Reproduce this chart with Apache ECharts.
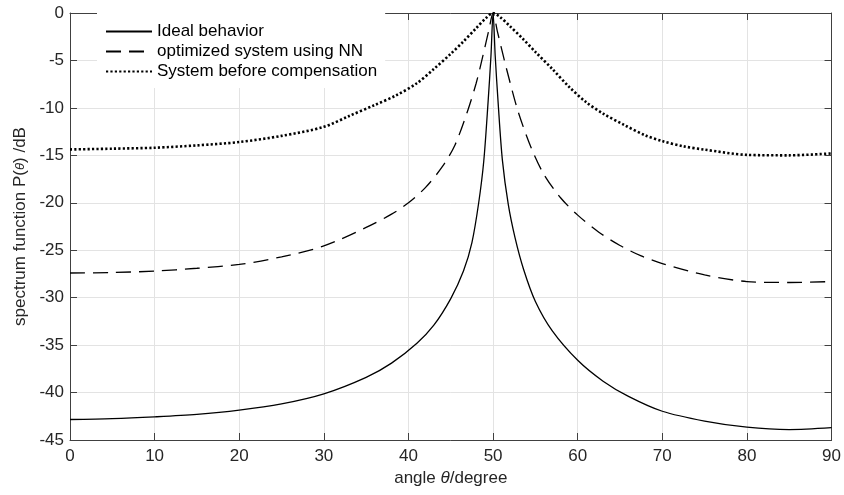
<!DOCTYPE html>
<html>
<head>
<meta charset="utf-8">
<script src="https://cdn.jsdelivr.net/npm/echarts@6/dist/echarts.min.js"></script>
<style>
html,body{margin:0;padding:0;background:#fff;}
#chart{width:844px;height:495px;}
</style>
</head>
<body>
<div id="chart"></div>
<script>
// ---- data ----
var seriesNames = ['Ideal behavior', 'optimized system using NN', 'System before compensation'];

var idealAngles = [0, 5, 10, 15, 20, 25, 30, 35, 38, 41, 43, 45, 46.5, 47.5, 48.3, 48.9, 49.4, 49.75, 50, 50.25, 50.6, 51.1, 51.8, 52.6, 53.6, 55, 57, 60, 63, 66, 70, 75, 80, 85, 90];
var idealValues = [-42.84, -42.75, -42.56, -42.3, -41.86, -41.2, -40.14, -38.4, -36.9, -34.8, -32.9, -30.1, -27.2, -24.2, -20.0, -15.6, -9.5, -4.5, 0, -4.5, -9.5, -15.5, -20.2, -23.7, -27.0, -30.4, -33.5, -36.6, -38.8, -40.4, -41.97, -43.0, -43.65, -43.9, -43.7];

var nnAngles = [0, 5, 10, 15, 20, 25, 30, 35, 38, 40, 42, 44, 45.5, 47, 48, 48.8, 49.5, 50, 50.5, 51.2, 52, 53, 54.5, 56, 58, 60, 62.5, 65, 67.5, 70, 75, 80, 85, 90];
var nnValues = [-27.4, -27.35, -27.2, -26.9, -26.5, -25.7, -24.55, -22.6, -21.2, -20.0, -18.4, -16.2, -13.9, -10.3, -7.4, -4.5, -1.8, 0, -1.9, -4.5, -7.3, -10.5, -14.2, -17.0, -19.5, -21.3, -23.1, -24.5, -25.6, -26.4, -27.6, -28.3, -28.4, -28.3];

var beforeAngles = [0, 5, 10, 15, 20, 25, 30, 33, 36, 38.5, 41, 43, 45, 46.5, 48, 49.2, 50, 50.8, 52, 53.5, 55, 57, 59, 61, 63, 65.5, 68, 70, 72.5, 75, 80, 85, 90];
var beforeValues = [-14.38, -14.3, -14.2, -13.95, -13.6, -12.95, -12.0, -10.85, -9.7, -8.7, -7.4, -5.9, -4.3, -3.0, -1.6, -0.5, 0, -0.4, -1.4, -2.7, -4.1, -5.9, -7.8, -9.4, -10.6, -11.8, -12.9, -13.5, -14.05, -14.4, -14.95, -15.0, -14.8];

var xTicks = [0, 10, 20, 30, 40, 50, 60, 70, 80, 90];
var yTicks = [0, -5, -10, -15, -20, -25, -30, -35, -40, -45];

function pairs(xs, ys) { return xs.map(function (x, i) { return [x, ys[i]]; }); }

var chart = echarts.init(document.getElementById('chart'), null, {renderer: 'canvas'});
var FONT = 'Liberation Sans, Arial, Helvetica, sans-serif';
var axisCol = '#404040';
var gridCol = '#e3e3e3';

var baseX = {
  type: 'value', min: 0, max: 90, interval: 10,
  axisLine: {show: true, onZero: false, lineStyle: {color: axisCol, width: 1}},
  axisTick: {show: true, inside: true, length: 7, lineStyle: {color: axisCol}},
  splitLine: {show: false}
};
var baseY = {
  type: 'value', min: -45, max: 0, interval: 5,
  axisLine: {show: true, onZero: false, lineStyle: {color: axisCol, width: 1}},
  axisTick: {show: true, inside: true, length: 7, lineStyle: {color: axisCol}},
  splitLine: {show: false}
};

var option = {
  backgroundColor: '#fff',
  animation: false,
  textStyle: {fontFamily: FONT},
  grid: {left: 70, right: 12, top: 13, bottom: 55, containLabel: false},
  legend: {
    orient: 'vertical', left: 97, top: 13,
    backgroundColor: '#fff',
    padding: [10, 8, 8, 8],
    itemWidth: 46, itemHeight: 12, itemGap: 3,
    itemStyle: {opacity: 0},
    textStyle: {fontSize: 17, color: '#000', fontFamily: FONT},
    data: seriesNames
  },
  xAxis: [
    Object.assign({}, baseX, {
      position: 'bottom',
      axisLabel: {show: true, fontSize: 17, color: '#262626', margin: 8, fontFamily: FONT},
      splitLine: {show: true, lineStyle: {color: gridCol, width: 1}},
      name: 'angle {i|θ}/degree', nameLocation: 'middle', nameGap: 26,
      nameTextStyle: {fontSize: 17, color: '#262626', fontFamily: FONT,
        rich: {i: {fontStyle: 'italic', fontSize: 17, color: '#262626', fontFamily: FONT}}}
    }),
    Object.assign({}, baseX, {position: 'top', axisLabel: {show: false}})
  ],
  yAxis: [
    Object.assign({}, baseY, {
      position: 'left',
      axisLabel: {show: true, fontSize: 17, color: '#262626', margin: 6, fontFamily: FONT},
      splitLine: {show: true, lineStyle: {color: gridCol, width: 1}},
      name: 'spectrum function P({i|θ}) /dB', nameLocation: 'middle', nameGap: 40,
      nameTextStyle: {fontSize: 17, color: '#262626', fontFamily: FONT,
        rich: {i: {fontStyle: 'italic', fontSize: 13, color: '#262626', fontFamily: FONT}}}
    }),
    Object.assign({}, baseY, {position: 'right', axisLabel: {show: false}})
  ],
  series: [
    {
      name: seriesNames[0], type: 'line', data: pairs(idealAngles, idealValues),
      symbol: 'none', smooth: 0.3, clip: true,
      lineStyle: {color: '#000', width: 1.3, type: 'solid'},
      itemStyle: {color: '#000'}, z: 5
    },
    {
      name: seriesNames[1], type: 'line', data: pairs(nnAngles, nnValues),
      symbol: 'none', smooth: 0.3, clip: true,
      lineStyle: {color: '#000', width: 1.3, type: [15, 8]},
      itemStyle: {color: '#000'}, z: 4
    },
    {
      name: seriesNames[2], type: 'line', data: pairs(beforeAngles, beforeValues),
      symbol: 'none', smooth: 0.3, clip: true,
      lineStyle: {color: '#000', width: 2.6, type: [2.2, 2.2]},
      itemStyle: {color: '#000'}, z: 3
    }
  ]
};
chart.setOption(option);
</script>
</body>
</html>
